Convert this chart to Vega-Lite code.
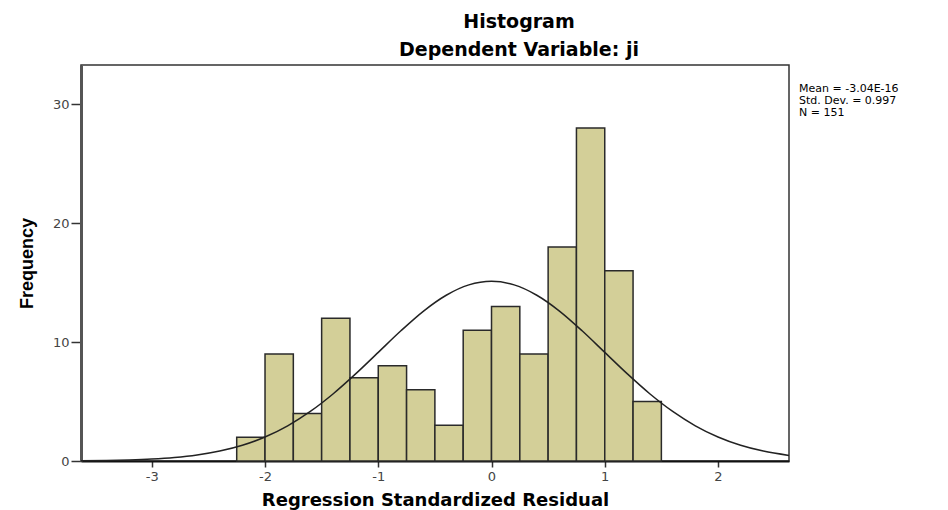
{
  "$schema": "https://vega.github.io/schema/vega-lite/v6.json",
  "width": 708,
  "height": 396,
  "autosize": "none",
  "padding": {"left": 81, "top": 65, "right": 159, "bottom": 49},
  "background": "white",
  "title": {
    "text": ["Histogram", "Dependent Variable: ji"],
    "anchor": "middle",
    "dx": 84,
    "offset": 5,
    "font": "DejaVu Sans",
    "fontSize": 19,
    "fontWeight": "bold",
    "lineHeight": 28,
    "color": "black"
  },
  "config": {
    "view": {"fill": "#efefef", "stroke": "#333", "strokeWidth": 1.5},
    "axis": {
      "grid": false,
      "labelFont": "DejaVu Sans",
      "labelFontSize": 13,
      "labelColor": "#444",
      "tickColor": "#333",
      "tickWidth": 1.5,
      "titleColor": "black",
      "titleFontWeight": "bold"
    }
  },
  "datasets": {
    "bins": [
      {"bin_start": -2.25, "bin_end": -2.0, "count": 2},
      {"bin_start": -2.0, "bin_end": -1.75, "count": 9},
      {"bin_start": -1.75, "bin_end": -1.5, "count": 4},
      {"bin_start": -1.5, "bin_end": -1.25, "count": 12},
      {"bin_start": -1.25, "bin_end": -1.0, "count": 7},
      {"bin_start": -1.0, "bin_end": -0.75, "count": 8},
      {"bin_start": -0.75, "bin_end": -0.5, "count": 6},
      {"bin_start": -0.5, "bin_end": -0.25, "count": 3},
      {"bin_start": -0.25, "bin_end": 0.0, "count": 11},
      {"bin_start": 0.0, "bin_end": 0.25, "count": 13},
      {"bin_start": 0.25, "bin_end": 0.5, "count": 9},
      {"bin_start": 0.5, "bin_end": 0.75, "count": 18},
      {"bin_start": 0.75, "bin_end": 1.0, "count": 28},
      {"bin_start": 1.0, "bin_end": 1.25, "count": 16},
      {"bin_start": 1.25, "bin_end": 1.5, "count": 5}
    ],
    "curve": [
      {"x": -3.625, "y": 0.020},
      {"x": -3.4, "y": 0.045},
      {"x": -3.2, "y": 0.088},
      {"x": -3.0, "y": 0.164},
      {"x": -2.8, "y": 0.293},
      {"x": -2.6, "y": 0.504},
      {"x": -2.4, "y": 0.834},
      {"x": -2.2, "y": 1.324},
      {"x": -2.0, "y": 2.020},
      {"x": -1.8, "y": 2.961},
      {"x": -1.6, "y": 4.169},
      {"x": -1.4, "y": 5.638},
      {"x": -1.2, "y": 7.324},
      {"x": -1.0, "y": 9.137},
      {"x": -0.8, "y": 10.95},
      {"x": -0.6, "y": 12.61},
      {"x": -0.4, "y": 13.94},
      {"x": -0.2, "y": 14.81},
      {"x": 0.0, "y": 15.11},
      {"x": 0.2, "y": 14.81},
      {"x": 0.4, "y": 13.94},
      {"x": 0.6, "y": 12.61},
      {"x": 0.8, "y": 10.95},
      {"x": 1.0, "y": 9.137},
      {"x": 1.2, "y": 7.324},
      {"x": 1.4, "y": 5.638},
      {"x": 1.6, "y": 4.169},
      {"x": 1.8, "y": 2.961},
      {"x": 2.0, "y": 2.020},
      {"x": 2.2, "y": 1.324},
      {"x": 2.4, "y": 0.834},
      {"x": 2.627, "y": 0.470}
    ],
    "stats": [
      {"stat": "Mean = -3.04E-16"},
      {"stat": "Std. Dev. = 0.997"},
      {"stat": "N = 151"}
    ]
  },
  "layer": [
    {
      "data": {"name": "bins"},
      "mark": {"type": "rect", "fill": "#d3cf98", "stroke": "#2a2a2a", "strokeWidth": 1.5},
      "encoding": {
        "x": {
          "field": "bin_start",
          "type": "quantitative",
          "scale": {"domain": [-3.625, 2.627], "nice": false, "zero": false},
          "axis": {
            "values": [-3, -2, -1, 0, 1, 2],
            "labelExpr": "datum.value < 0 ? '-' + abs(datum.value) : '' + datum.value",
            "tickSize": 6,
            "labelPadding": 3,
            "domainColor": "#111",
            "domainWidth": 2,
            "title": "Regression Standardized Residual",
            "titleFont": "DejaVu Sans",
            "titleFontSize": 18,
            "titlePadding": 8
          }
        },
        "x2": {"field": "bin_end"},
        "y": {
          "field": "count",
          "type": "quantitative",
          "scale": {"domain": [0, 33.3], "nice": false},
          "axis": {
            "values": [0, 10, 20, 30],
            "tickSize": 10,
            "labelPadding": 2,
            "domainColor": "#555",
            "domainWidth": 3,
            "title": "Frequency",
            "titleFont": "Liberation Sans",
            "titleFontSize": 18,
            "titlePadding": 16
          }
        },
        "y2": {"datum": 0}
      }
    },
    {
      "data": {"name": "curve"},
      "mark": {"type": "line", "color": "#222", "strokeWidth": 1.5, "interpolate": "monotone"},
      "encoding": {
        "x": {"field": "x", "type": "quantitative"},
        "y": {"field": "y", "type": "quantitative"}
      }
    },
    {
      "data": {"name": "stats"},
      "mark": {"type": "point", "opacity": 0},
      "encoding": {
        "color": {
          "field": "stat",
          "type": "nominal",
          "scale": {
            "domain": ["Mean = -3.04E-16", "Std. Dev. = 0.997", "N = 151"],
            "range": ["black", "black", "black"]
          },
          "legend": {
            "title": null,
            "orient": "none",
            "legendX": 707,
            "legendY": 18,
            "symbolSize": 0,
            "symbolOpacity": 0,
            "symbolStrokeWidth": 0,
            "labelOffset": 0,
            "labelFont": "DejaVu Sans",
            "labelFontSize": 11,
            "labelColor": "black",
            "rowPadding": 0,
            "labelLimit": 200
          }
        }
      }
    }
  ]
}
